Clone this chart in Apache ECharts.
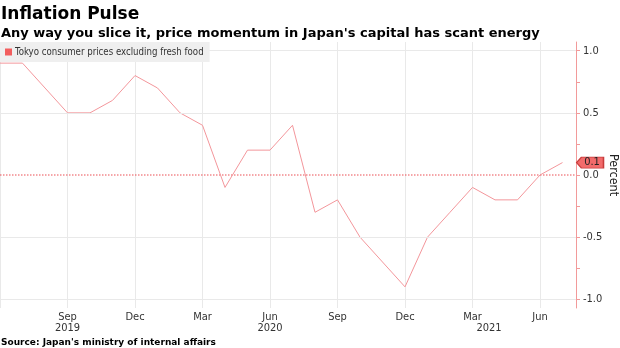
<!DOCTYPE html>
<html>
<head>
<meta charset="utf-8">
<script src="https://cdn.jsdelivr.net/npm/echarts@6/dist/echarts.min.js"></script>
<style>
html,body{margin:0;padding:0;background:#fff;}
#c{width:620px;height:348px;}
</style>
</head>
<body>
<div id="c"></div>
<script>
// ---- data ----
const months = ['2019-06','2019-07','2019-08','2019-09','2019-10','2019-11','2019-12',
  '2020-01','2020-02','2020-03','2020-04','2020-05','2020-06','2020-07','2020-08','2020-09','2020-10','2020-11','2020-12',
  '2021-01','2021-02','2021-03','2021-04','2021-05','2021-06','2021-07'];
const cpiValues = [0.9,0.9,0.7,0.5,0.5,0.6,0.8,
  0.7,0.5,0.4,-0.1,0.2,0.2,0.4,-0.3,-0.2,-0.5,-0.7,-0.9,
  -0.5,-0.3,-0.1,-0.2,-0.2,0.0,0.1];
const monthNames = ['Jan','Feb','Mar','Apr','May','Jun','Jul','Aug','Sep','Oct','Nov','Dec'];
const yLabelValues = [-1, -0.5, 0, 0.5, 1];
const yTickValues = [-1, -0.75, -0.5, -0.25, 0, 0.25, 0.5, 0.75, 1];
const yGridValues = [-1, -0.5, 0.5, 1];
const zeroLineValue = 0;
const yearLabels = ['2019', '2020', '2021'];
const yearLabelDates = ['2019-09-01', '2020-06-01', '2021-03-23'];
const seriesName = 'Tokyo consumer prices excluding fresh food';

// month index helpers
const start = months[0].split('-').map(Number);
function dateToIndex(s) {
  const p = s.split('-').map(Number);
  return (p[0] - start[0]) * 12 + (p[1] - start[1]) + ((p[2] || 1) - 1) / 30;
}
const data = months.map((m, i) => [dateToIndex(m), cpiValues[i]]);
const xMax = data[data.length - 1][0] + 0.6;
const yearPos = yearLabelDates.map(dateToIndex);

const chart = echarts.init(document.getElementById('c'), null, {renderer: 'canvas'});
const font = 'DejaVu Sans';
const condFont = "'DejaVu Sans Condensed', 'DejaVu Sans', sans-serif";
chart.setOption({
  animation: false,
  backgroundColor: '#fff',
  title: [
    {text: 'Inflation Pulse', left: 1, top: 6, padding: 0,
     textStyle: {fontFamily: font, fontWeight: 'bold', fontSize: 17, color: '#000'}},
    {text: "Any way you slice it, price momentum in Japan's capital has scant energy", left: 1, top: 27, padding: 0,
     textStyle: {fontFamily: font, fontWeight: 'bold', fontSize: 13, color: '#000'}},
    {text: "Source: Japan's ministry of internal affairs", left: 1, top: 338, padding: 0,
     textStyle: {fontFamily: font, fontWeight: 'bold', fontSize: 9, color: '#000'}}
  ],
  legend: {
    z: 10,
    left: 0, top: 42, padding: [5, 6, 5, 5],
    backgroundColor: '#efefef',
    itemWidth: 7, itemHeight: 7, itemGap: 10,
    icon: 'rect',
    textStyle: {fontFamily: condFont, fontSize: 9.6, color: '#333', padding: [0, 0, 0, -2]},
    data: [{name: seriesName, itemStyle: {color: '#f25e5e'}}]
  },
  grid: {left: 0, right: 44, top: 42, bottom: 40, containLabel: false, outerBoundsMode: 'none'},
  xAxis: [
    {type: 'value', min: 0, max: xMax, interval: 3,
     axisLine: {show: false, onZero: false}, axisTick: {show: false},
     splitLine: {show: true, lineStyle: {color: '#e9e9e9', width: 1}},
     axisLabel: {showMinLabel: false, showMaxLabel: false, margin: 4,
       fontFamily: condFont, fontSize: 11, color: '#333',
       formatter: v => { const m = months[Math.round(v)]; return m ? monthNames[Number(m.split('-')[1]) - 1] : ''; }}},
    {type: 'value', min: 0, max: xMax, position: 'bottom',
     axisLine: {show: false, onZero: false}, axisTick: {show: false}, splitLine: {show: false},
     axisLabel: {customValues: yearPos, margin: 15, fontFamily: condFont, fontSize: 11, color: '#333',
       formatter: v => { const i = yearPos.findIndex(p => Math.abs(p - v) < 1e-6); return i >= 0 ? yearLabels[i] : ''; }}}
  ],
  yAxis: {
    type: 'value', position: 'right', min: -1.07, max: 1.07,
    name: 'Percent', nameLocation: 'middle', nameRotate: -90, nameGap: 31, nameMoveOverlap: false,
    nameTextStyle: {fontFamily: condFont, fontSize: 12.5, color: '#222'},
    axisLine: {show: true, onZero: false, lineStyle: {color: '#f29a9a', width: 1}},
    axisTick: {show: true, customValues: yTickValues, length: 4, lineStyle: {color: '#f29a9a'}},
    splitLine: {show: false},
    axisLabel: {customValues: yLabelValues, margin: 7, fontFamily: condFont, fontSize: 11, color: '#333',
      formatter: v => v.toFixed(1)}
  },
  series: [
    {
      type: 'line', name: 'grid', data: [], z: 1, silent: true,
      markLine: {silent: true, symbol: 'none', animation: false, label: {show: false},
        lineStyle: {color: '#e9e9e9', type: 'solid', width: 1},
        data: yGridValues.map(v => ({yAxis: v}))}
    },
    {
      type: 'line', name: 'zero', data: [[0, zeroLineValue], [xMax, zeroLineValue]], z: 2, silent: true,
      showSymbol: false, symbol: 'none', clip: false,
      lineStyle: {color: '#ec4f55', type: [1.5, 1.5], width: 1.2},
      itemStyle: {color: '#ec4f55'},
      emphasis: {disabled: true}
    },
    {
      type: 'line', name: seriesName, data: data, z: 3,
      showSymbol: false, symbol: 'none',
      lineStyle: {color: '#f3969b', width: 1},
      itemStyle: {color: '#f3969b'},
      markPoint: {
        silent: true, animation: false,
        symbol: 'path://M0,5 L5,0 L27,0 L27,10 L5,10 Z',
        symbolSize: [27, 11], symbolKeepAspect: false,
        symbolOffset: [14, 0],
        itemStyle: {color: '#f26b6b', borderColor: '#c83c3c', borderWidth: 1},
        label: {show: true, position: 'inside', offset: [2, 0], fontFamily: condFont, fontSize: 11, color: '#222',
          formatter: p => p.value.toFixed(1)},
        data: [{coord: [xMax, cpiValues[cpiValues.length - 1]], value: cpiValues[cpiValues.length - 1]}]
      }
    }
  ]
});
</script>
</body>
</html>
